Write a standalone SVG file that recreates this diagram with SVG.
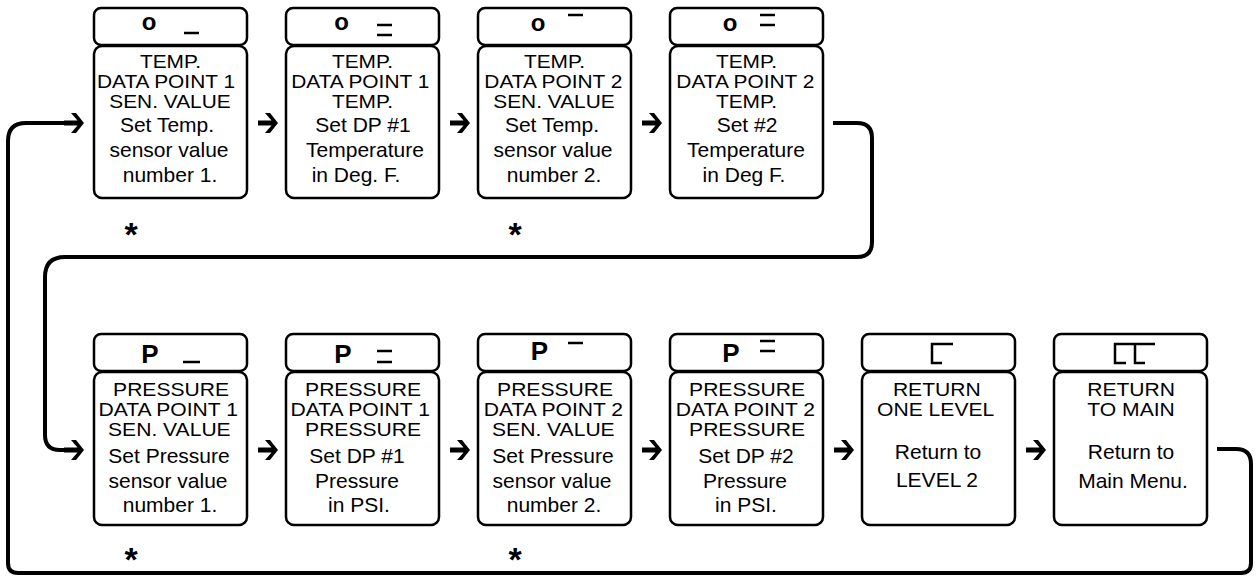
<svg xmlns="http://www.w3.org/2000/svg" width="1256" height="578" viewBox="0 0 1256 578">
<style>
.box{fill:#fff;stroke:#000;stroke-width:2.5}
.up1{font-family:"Liberation Sans",Arial,sans-serif;font-size:18.5px;text-anchor:middle;fill:#000}
.up2{font-family:"Liberation Sans",Arial,sans-serif;font-size:18.5px;text-anchor:middle;fill:#000}
.lo{font-family:"Liberation Sans",Arial,sans-serif;font-size:21px;text-anchor:middle;fill:#000}
.hd{font-family:"Liberation Sans",Arial,sans-serif;font-weight:bold;text-anchor:middle;fill:#000}
.mk{fill:none;stroke:#000;stroke-width:2.5}
.ast{font-family:"Liberation Sans",Arial,sans-serif;font-weight:bold;font-size:34px;text-anchor:middle;fill:#000}
.conn{fill:none;stroke:#000;stroke-width:4;stroke-linejoin:round}
</style>
<defs>
<path id="arr" d="M0,0 L-8,-10 L-13,-10 L-6.5,-2.5 L-20,-2.5 L-20,2.5 L-6.5,2.5 L-13,10 L-8,10 Z" fill="#000"/>
</defs>

<g id="connectors">
<path class="conn" d="M833,123 H857 Q872,123 872,138 V242 Q872,257 857,257 H65 Q45,257 45,277 V435 Q45,450 60,450 H72"/>
<path class="conn" d="M1217,449 H1236 Q1251,449 1251,464 V563 Q1251,573 1241,573 H18 Q8,573 8,563 V141 Q8,123 26,123 H72"/>
<use href="#arr" x="84" y="123"/>
<use href="#arr" x="84" y="450"/>
<use href="#arr" x="278" y="123"/>
<use href="#arr" x="470" y="123"/>
<use href="#arr" x="662" y="123"/>
<use href="#arr" x="278" y="450"/>
<use href="#arr" x="470" y="450"/>
<use href="#arr" x="662" y="450"/>
<use href="#arr" x="854" y="450"/>
<use href="#arr" x="1046" y="450"/>
</g>

<g id="t1">
<rect class="box" x="94" y="8" width="153" height="37" rx="7"/>
<rect class="box" x="94" y="46" width="153" height="152" rx="8"/>
<text class="hd" x="149" y="30" font-size="24">o</text>
<path class="mk" d="M184,33 H199"/>
<g transform="translate(170.5,0) scale(1.13,1)"><text class="up1"><tspan x="0" y="68">TEMP.</tspan><tspan x="-4" y="88">DATA POINT 1</tspan><tspan x="-0.5" y="108">SEN. VALUE</tspan></text></g>
<text class="lo"><tspan x="167" y="132">Set Temp.</tspan><tspan x="169" y="157">sensor value</tspan><tspan x="170" y="182">number 1.</tspan></text>
</g>

<g id="t2">
<rect class="box" x="286" y="8" width="153" height="37" rx="7"/>
<rect class="box" x="286" y="46" width="153" height="152" rx="8"/>
<text class="hd" x="341.5" y="30" font-size="24">o</text>
<path class="mk" d="M377,25 H392 M377,35 H392"/>
<g transform="translate(362.5,0) scale(1.13,1)"><text class="up1"><tspan x="0" y="68">TEMP.</tspan><tspan x="-2" y="88">DATA POINT 1</tspan><tspan x="0" y="108">TEMP.</tspan></text></g>
<text class="lo"><tspan x="363" y="132">Set DP #1</tspan><tspan x="365" y="157">Temperature</tspan><tspan x="356" y="182">in Deg. F.</tspan></text>
</g>

<g id="t3">
<rect class="box" x="478" y="8" width="153" height="37" rx="7"/>
<rect class="box" x="478" y="46" width="153" height="152" rx="8"/>
<text class="hd" x="538" y="31" font-size="24">o</text>
<path class="mk" d="M568,15 H583"/>
<g transform="translate(554.5,0) scale(1.13,1)"><text class="up1"><tspan x="0" y="68">TEMP.</tspan><tspan x="-1" y="88">DATA POINT 2</tspan><tspan x="-0.5" y="108">SEN. VALUE</tspan></text></g>
<text class="lo"><tspan x="552" y="132">Set Temp.</tspan><tspan x="553" y="157">sensor value</tspan><tspan x="554" y="182">number 2.</tspan></text>
</g>

<g id="t4">
<rect class="box" x="670" y="8" width="153" height="37" rx="7"/>
<rect class="box" x="670" y="46" width="153" height="152" rx="8"/>
<text class="hd" x="730" y="31" font-size="24">o</text>
<path class="mk" d="M760,15 H775 M760,25 H775"/>
<g transform="translate(746.5,0) scale(1.13,1)"><text class="up1"><tspan x="0" y="68">TEMP.</tspan><tspan x="-1" y="88">DATA POINT 2</tspan><tspan x="0" y="108">TEMP.</tspan></text></g>
<text class="lo"><tspan x="747" y="132">Set #2</tspan><tspan x="746" y="157">Temperature</tspan><tspan x="744" y="182">in Deg F.</tspan></text>
</g>

<g id="b1">
<rect class="box" x="94" y="334" width="153" height="37" rx="7"/>
<rect class="box" x="94" y="372" width="153" height="153" rx="8"/>
<text class="hd" x="150" y="363" font-size="26">P</text>
<path class="mk" d="M183,362 H200"/>
<g transform="translate(170.5,0) scale(1.14,1)"><text class="up2"><tspan x="0.5" y="396">PRESSURE</tspan><tspan x="-2" y="416">DATA POINT 1</tspan><tspan x="-1" y="436">SEN. VALUE</tspan></text></g>
<text class="lo"><tspan x="169" y="463">Set Pressure</tspan><tspan x="168" y="488">sensor value</tspan><tspan x="170" y="512">number 1.</tspan></text>
</g>

<g id="b2">
<rect class="box" x="286" y="334" width="153" height="37" rx="7"/>
<rect class="box" x="286" y="372" width="153" height="153" rx="8"/>
<text class="hd" x="343" y="363" font-size="26">P</text>
<path class="mk" d="M377,351 H392 M377,362 H392"/>
<g transform="translate(362.5,0) scale(1.14,1)"><text class="up2"><tspan x="0.5" y="396">PRESSURE</tspan><tspan x="-2" y="416">DATA POINT 1</tspan><tspan x="0.5" y="436">PRESSURE</tspan></text></g>
<text class="lo"><tspan x="357" y="463">Set DP #1</tspan><tspan x="357" y="488">Pressure</tspan><tspan x="359" y="512">in PSI.</tspan></text>
</g>

<g id="b3">
<rect class="box" x="478" y="334" width="153" height="37" rx="7"/>
<rect class="box" x="478" y="372" width="153" height="153" rx="8"/>
<text class="hd" x="539.5" y="360" font-size="26">P</text>
<path class="mk" d="M568,343 H583"/>
<g transform="translate(554.5,0) scale(1.14,1)"><text class="up2"><tspan x="0.5" y="396">PRESSURE</tspan><tspan x="-1" y="416">DATA POINT 2</tspan><tspan x="-1" y="436">SEN. VALUE</tspan></text></g>
<text class="lo"><tspan x="553" y="463">Set Pressure</tspan><tspan x="552" y="488">sensor value</tspan><tspan x="554" y="512">number 2.</tspan></text>
</g>

<g id="b4">
<rect class="box" x="670" y="334" width="153" height="37" rx="7"/>
<rect class="box" x="670" y="372" width="153" height="153" rx="8"/>
<text class="hd" x="731" y="362" font-size="26">P</text>
<path class="mk" d="M760,341 H775 M760,351 H775"/>
<g transform="translate(746.5,0) scale(1.14,1)"><text class="up2"><tspan x="0.5" y="396">PRESSURE</tspan><tspan x="-1" y="416">DATA POINT 2</tspan><tspan x="0.5" y="436">PRESSURE</tspan></text></g>
<text class="lo"><tspan x="746" y="463">Set DP #2</tspan><tspan x="745" y="488">Pressure</tspan><tspan x="746" y="512">in PSI.</tspan></text>
</g>

<g id="b5">
<rect class="box" x="862" y="334" width="153" height="37" rx="7"/>
<rect class="box" x="862" y="372" width="153" height="153" rx="8"/>
<path class="mk" d="M953,344 H932 V363 H942"/>
<g transform="translate(938.5,0) scale(1.14,1)"><text class="up2"><tspan x="-1.5" y="396">RETURN</tspan><tspan x="-2.5" y="416">ONE LEVEL</tspan></text></g>
<text class="lo"><tspan x="938" y="459">Return to</tspan><tspan x="937" y="487">LEVEL 2</tspan></text>
</g>

<g id="b6">
<rect class="box" x="1054" y="334" width="153" height="37" rx="7"/>
<rect class="box" x="1054" y="372" width="153" height="153" rx="8"/>
<path class="mk" d="M1155,344 H1115 V363 H1126 M1135,344 V363 H1145"/>
<g transform="translate(1130.5,0) scale(1.14,1)"><text class="up2"><tspan x="0.5" y="396">RETURN</tspan><tspan x="0.5" y="416">TO MAIN</tspan></text></g>
<text class="lo"><tspan x="1131" y="459">Return to</tspan><tspan x="1133" y="488">Main Menu.</tspan></text>
</g>

<g id="asterisks">
<text class="ast" x="131" y="245.5">*</text>
<text class="ast" x="515" y="245.5">*</text>
<text class="ast" x="131" y="570.5">*</text>
<text class="ast" x="515" y="570.5">*</text>
</g>
</svg>
